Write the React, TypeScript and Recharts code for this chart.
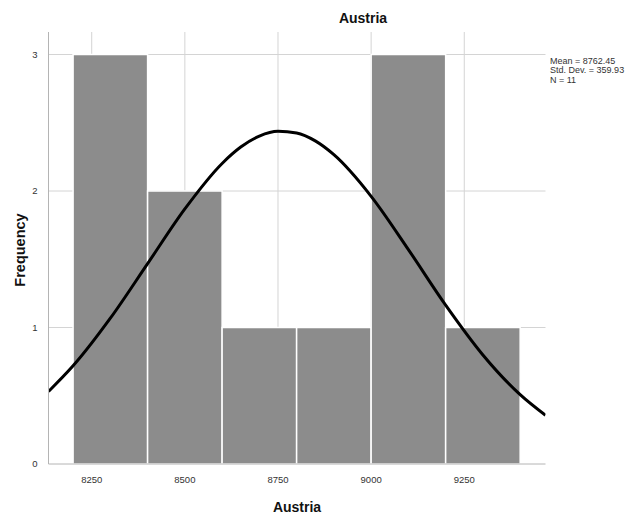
import React from "react";
import {
  ComposedChart,
  Line,
  XAxis,
  YAxis,
  CartesianGrid,
  ReferenceArea,
} from "recharts";

// Histogram bins (Austria) and frequencies
const binStarts = [8200, 8400, 8600, 8800, 9000, 9200];
const binEnds = [8400, 8600, 8800, 9000, 9200, 9400];
const frequencies = [3, 2, 1, 1, 3, 1];

// Normal curve
const curveX = [8134, 8200, 8300, 8400, 8500, 8600, 8650, 8700, 8750, 8800, 8850, 8900, 9000, 9100, 9200, 9300, 9400, 9468];
const curveY = [0.531, 0.719, 1.068, 1.468, 1.869, 2.202, 2.322, 2.402, 2.437, 2.425, 2.367, 2.266, 1.961, 1.571, 1.164, 0.799, 0.508, 0.357];

const xTicks = [8250, 8500, 8750, 9000, 9250];
const yTicks = [0, 1, 2, 3];
const yGrid = [1, 2, 3];
const statLines = ["Mean = 8762.45", "Std. Dev. = 359.93", "N = 11"];
const titleText = "Austria";
const xLabel = "Austria";
const yLabel = "Frequency";

const curveData = curveX.map((x, i) => ({ x, y: curveY[i] }));

const sans = "'Liberation Sans', Arial, sans-serif";

export default function App() {
  return (
    <div style={{ position: "absolute", left: 0, top: 0, width: 628, height: 518, background: "#fff" }}>
      <ComposedChart
        width={628}
        height={518}
        data={curveData}
        margin={{ top: 32, right: 82.5, bottom: 0, left: 0 }}
      >
        <CartesianGrid
          stroke="#d4d4d4"
          strokeWidth={1}
          horizontalValues={yGrid}
          verticalValues={xTicks}
        />
        <XAxis
          dataKey="x"
          type="number"
          domain={[8134, 9468]}
          ticks={xTicks}
          allowDataOverflow
          height={54}
          stroke="#b4b4b4"
          tickLine={false}
          tickMargin={6}
          tick={{ fill: "#333", fontSize: 9.5, fontFamily: sans }}
        />
        <YAxis
          type="number"
          domain={[0, 3.165]}
          ticks={yTicks}
          allowDataOverflow
          width={48.5}
          stroke="#b4b4b4"
          tickLine={false}
          tickMargin={5}
          tick={{ fill: "#333", fontSize: 9.5, fontFamily: sans }}
        />
        {binStarts.map((s, i) => (
          <ReferenceArea
            key={i}
            x1={s}
            x2={binEnds[i]}
            y1={0}
            y2={frequencies[i]}
            fill="#8c8c8c"
            fillOpacity={1}
            stroke="#ffffff"
            strokeWidth={1.5}
          />
        ))}
        <Line
          dataKey="y"
          type="monotone"
          stroke="#000"
          strokeWidth={3}
          dot={false}
          activeDot={false}
          isAnimationActive={false}
        />
      </ComposedChart>
      <div
        style={{
          position: "absolute",
          left: 300,
          width: 126,
          top: 10,
          textAlign: "center",
          fontFamily: sans,
          fontWeight: "bold",
          fontSize: 14,
          color: "#111",
        }}
      >
        {titleText}
      </div>
      <div
        style={{
          position: "absolute",
          left: 234,
          width: 126,
          top: 499,
          textAlign: "center",
          fontFamily: sans,
          fontWeight: "bold",
          fontSize: 14,
          color: "#111",
        }}
      >
        {xLabel}
      </div>
      <div
        style={{
          position: "absolute",
          left: 20,
          top: 250,
          transform: "translate(-50%, -50%) rotate(-90deg)",
          fontFamily: sans,
          fontWeight: "bold",
          fontSize: 14.5,
          color: "#111",
          whiteSpace: "nowrap",
        }}
      >
        {yLabel}
      </div>
      <div
        style={{
          position: "absolute",
          left: 550,
          top: 57,
          fontFamily: sans,
          fontSize: 9,
          lineHeight: "9.4px",
          color: "#333",
          whiteSpace: "nowrap",
        }}
      >
        {statLines.map((t, i) => (
          <div key={i}>{t}</div>
        ))}
      </div>
    </div>
  );
}
